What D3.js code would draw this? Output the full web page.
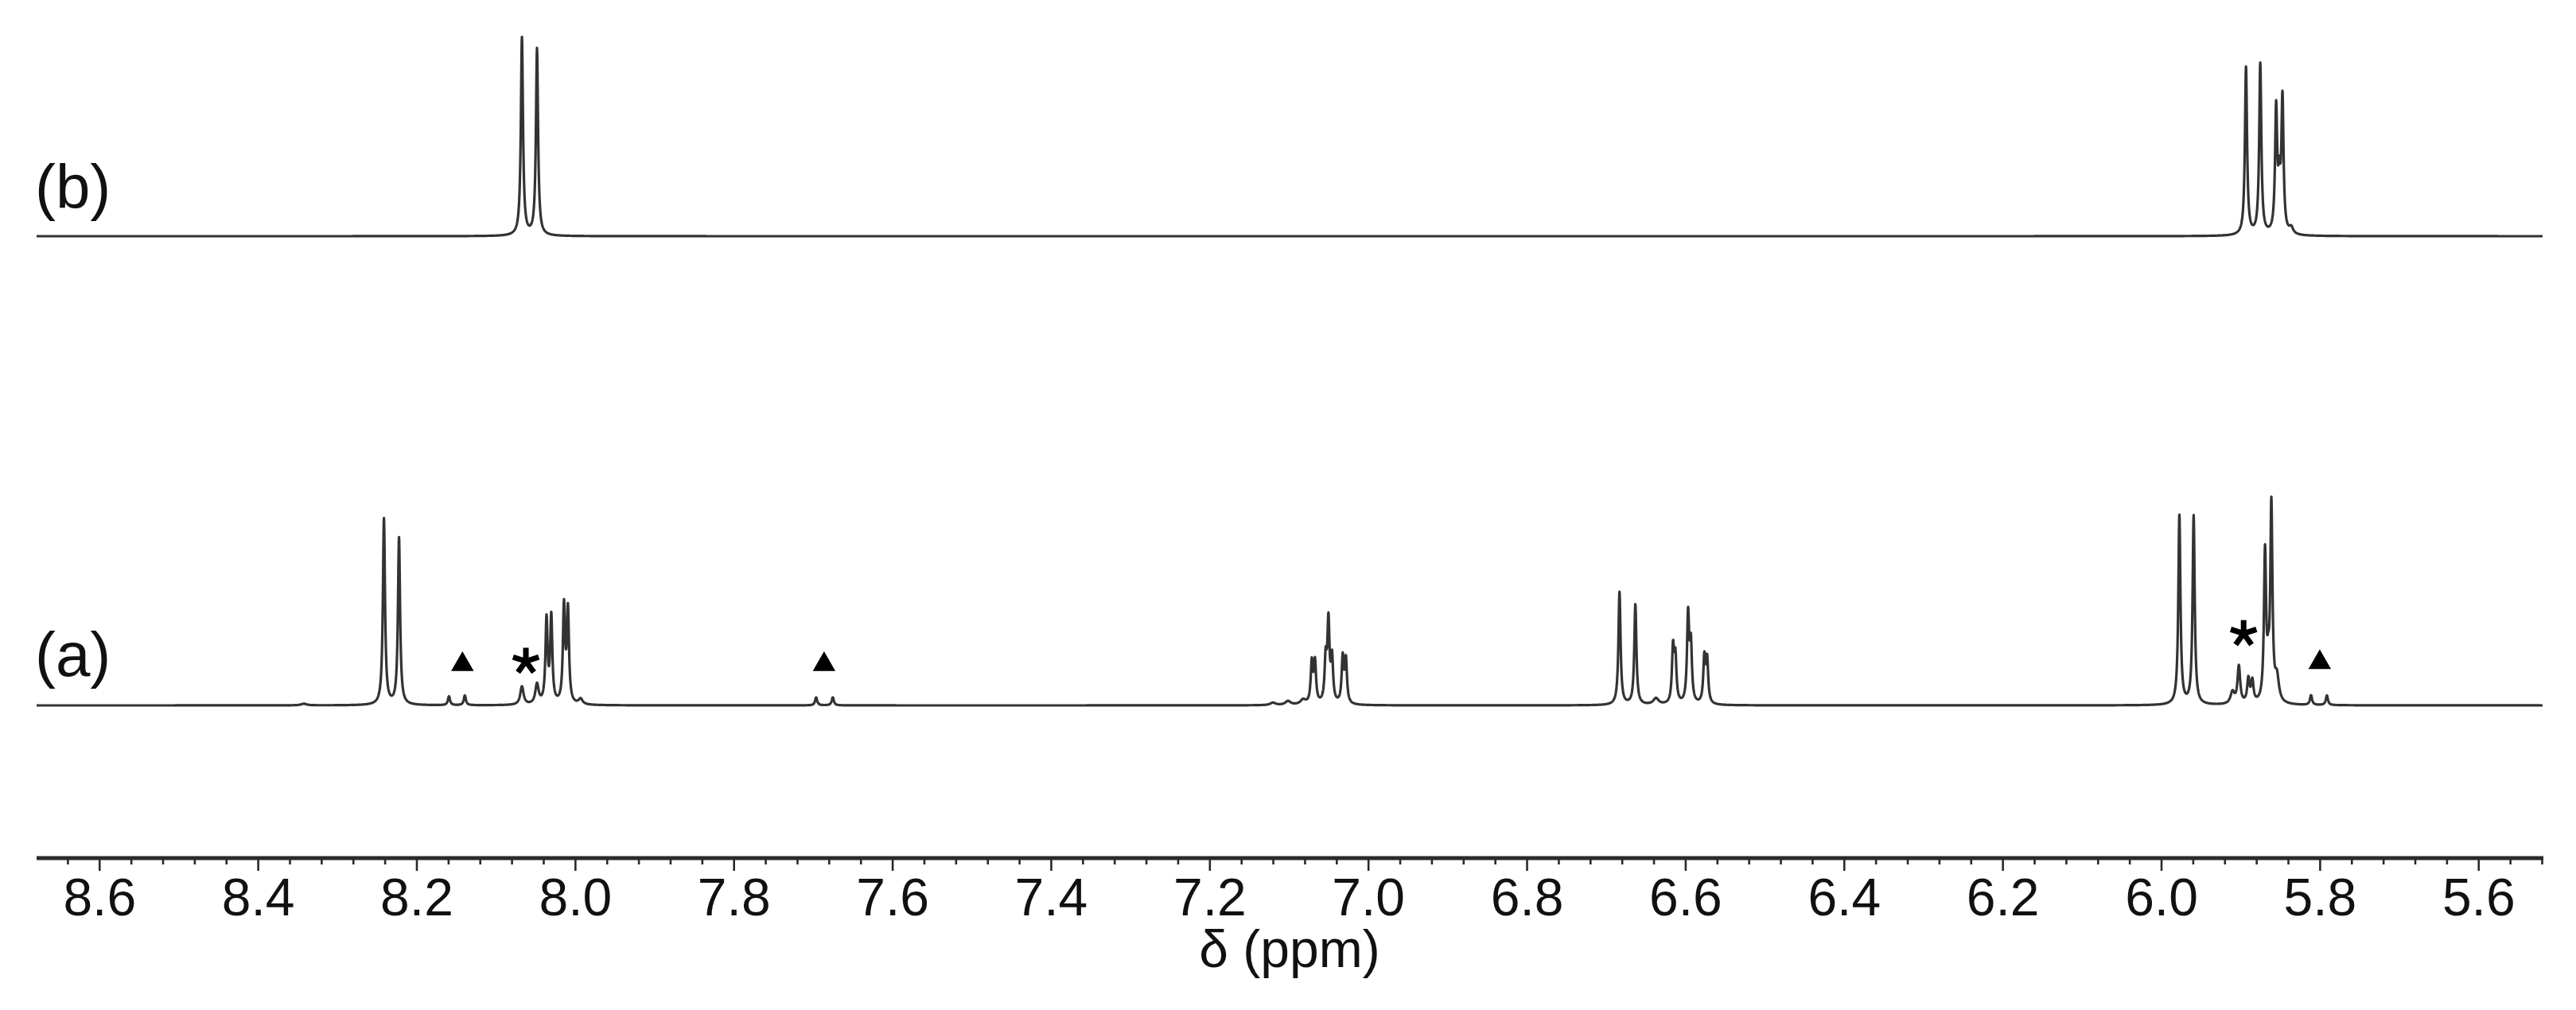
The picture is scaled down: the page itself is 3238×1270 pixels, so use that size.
<!DOCTYPE html>
<html>
<head>
<meta charset="utf-8">
<script src="https://cdn.jsdelivr.net/npm/d3@7"></script>
<style>
  html, body { margin: 0; padding: 0; background: #fff; }
  svg { display: block; }
  text { font-family: "Liberation Sans", Arial, Helvetica, sans-serif; fill: #111; }
</style>
</head>
<body>
<svg id="chart" width="3238" height="1270"></svg>
<script>
// ---------------- DATA ----------------
// chemical-shift window (ppm), left -> right
const ppmWindow = [8.679, 5.519];

// spectrum (a): line positions (ppm), intensities (% of tallest), half-widths (ppm)
const shiftsA = [8.342, 8.241, 8.222, 8.159, 8.139, 8.067, 8.048, 8.036, 8.030, 8.014, 8.009, 7.993,
                 7.696, 7.675, 7.120, 7.101, 7.082, 7.071, 7.067, 7.0535, 7.050, 7.0455, 7.032, 7.028,
                 6.683, 6.663, 6.637, 6.6155, 6.6125, 6.5965, 6.593, 6.576, 6.5725,
                 5.977, 5.959, 5.910, 5.902, 5.890, 5.885, 5.869, 5.865, 5.861, 5.854, 5.811, 5.791];
const intensA = [0.8, 90.7, 81.4, 4.3, 4.7, 8.9, 9.7, 40.7, 41.9, 46.9, 45.0, 2.7,
                 3.9, 3.9, 1.2, 1.9, 2.3, 19.8, 19.8, 20.2, 38.8, 21.3, 22.1, 20.9,
                 55.0, 48.8, 3.1, 26.4, 21.3, 42.6, 27.1, 22.1, 20.9,
                 92.2, 91.9, 5.8, 18.2, 11.6, 10.5, 72.5, 11.6, 95.3, 11.6, 4.7, 4.7];
const widthsA = [0.004, 0.0016, 0.0016, 0.0016, 0.0016, 0.0025, 0.0025, 0.0016, 0.0016, 0.0016, 0.0016, 0.003,
                 0.0016, 0.0016, 0.004, 0.004, 0.004, 0.0016, 0.0016, 0.0016, 0.0016, 0.0016, 0.0016, 0.0016,
                 0.0016, 0.0016, 0.004, 0.0016, 0.0016, 0.0016, 0.0016, 0.0016, 0.0016,
                 0.0016, 0.0016, 0.003, 0.002, 0.0018, 0.0018, 0.0016, 0.0016, 0.0016, 0.003, 0.0016, 0.0016];

// spectrum (b)
const shiftsB = [8.067, 8.048, 5.893, 5.875, 5.855, 5.851, 5.847, 5.836];
const intensB = [96.5, 91.1, 81.8, 83.3, 60.1, 21.3, 65.1, 3.1];
const widthsB = [0.0016, 0.0016, 0.0016, 0.0016, 0.0016, 0.0016, 0.0016, 0.003];

const traceLabels = ["(a)", "(b)"];

// axis ticks
const majorTicks = [8.6, 8.4, 8.2, 8.0, 7.8, 7.6, 7.4, 7.2, 7.0, 6.8, 6.6, 6.4, 6.2, 6.0, 5.8, 5.6];
const tickLabels = ["8.6", "8.4", "8.2", "8.0", "7.8", "7.6", "7.4", "7.2", "7.0", "6.8", "6.6", "6.4", "6.2", "6.0", "5.8", "5.6"];
const axisTitle = "δ (ppm)";

// annotations on trace (a): ppm and level (% units above baseline)
const triangleShifts = [8.142, 7.686, 5.800];
const triangleLevels = [21.5, 21.5, 22.5];
const asteriskShifts = [8.062, 5.896];
const asteriskLevels = [21.5, 35.0];

// ---------------- DRAW ----------------
const svg = d3.select("#chart");
const x = d3.scaleLinear().domain(ppmWindow).range([46, 3196]);
const yA = d3.scaleLinear().domain([0, 100]).range([887, 629]);
const yB = d3.scaleLinear().domain([0, 100]).range([297, 39]);

function spectrum(shifts, intens, widths) {
  const step = 0.00025;
  const pts = [];
  for (let v = ppmWindow[0]; v >= ppmWindow[1] - 1e-9; v -= step) {
    let s = 0;
    for (let i = 0; i < shifts.length; i++) {
      const d = v - shifts[i], w = widths[i];
      s += intens[i] * w * w / (d * d + w * w);
    }
    pts.push([v, s]);
  }
  return pts;
}

const dataA = spectrum(shiftsA, intensA, widthsA);
const dataB = spectrum(shiftsB, intensB, widthsB);

const lineA = d3.line().x(d => x(d[0])).y(d => yA(d[1]));
const lineB = d3.line().x(d => x(d[0])).y(d => yB(d[1]));

svg.append("path").datum(dataB).attr("d", lineB)
  .attr("fill", "none").attr("stroke", "#333").attr("stroke-width", 3.2).attr("stroke-linejoin", "round");
svg.append("path").datum(dataA).attr("d", lineA)
  .attr("fill", "none").attr("stroke", "#333").attr("stroke-width", 3.2).attr("stroke-linejoin", "round");

// trace labels
svg.append("text").attr("x", 44).attr("y", 850).attr("font-size", 78).text(traceLabels[0]);
svg.append("text").attr("x", 44).attr("y", 262).attr("font-size", 78).text(traceLabels[1]);

// triangles
svg.selectAll("path.tri").data(triangleShifts).enter().append("path")
  .attr("class", "tri")
  .attr("d", d3.symbol().type(d3.symbolTriangle).size(350))
  .attr("transform", (d, i) => `translate(${x(d)},${yA(triangleLevels[i]) + 4})`)
  .attr("fill", "#000");

// asterisks (5 arms)
function asteriskPath(r) {
  const p = d3.path();
  for (let k = 0; k < 5; k++) {
    const a = -Math.PI / 2 + k * 2 * Math.PI / 5;
    p.moveTo(0, 0);
    p.lineTo(r * Math.cos(a), r * Math.sin(a));
  }
  return p.toString();
}
svg.selectAll("path.ast").data(asteriskShifts).enter().append("path")
  .attr("class", "ast")
  .attr("d", asteriskPath(17))
  .attr("transform", (d, i) => `translate(${x(d)},${yA(asteriskLevels[i])})`)
  .attr("fill", "none").attr("stroke", "#000").attr("stroke-width", 7).attr("stroke-linecap", "butt");

// axis
const axisY = 1079;
const minorTicks = d3.range(0, 80).map(i => +(8.64 - i * 0.04).toFixed(2)).filter(v => v >= 5.519 &&
  !majorTicks.some(m => Math.abs(m - v) < 1e-6));

const gAxis = svg.append("g").attr("transform", `translate(0,${axisY})`);
gAxis.call(d3.axisBottom(x).tickValues(majorTicks).tickSize(16).tickPadding(8)
  .tickFormat((d, i) => tickLabels[i]));
gAxis.call(g => g.select(".domain").remove());
gAxis.selectAll(".tick line").attr("stroke", "#2a2a2a").attr("stroke-width", 2.6);
gAxis.selectAll(".tick text").attr("font-size", 66).attr("fill", "#111")
  .attr("font-family", "'Liberation Sans', Arial, sans-serif").attr("dy", "0.72em");

const gMinor = svg.append("g").attr("transform", `translate(0,${axisY})`);
gMinor.call(d3.axisBottom(x).tickValues(minorTicks).tickSize(8).tickFormat(""));
gMinor.call(g => g.select(".domain").remove());
gMinor.selectAll(".tick line").attr("stroke", "#2a2a2a").attr("stroke-width", 2.6);

svg.append("line").attr("x1", x(ppmWindow[0])).attr("x2", x(ppmWindow[1]) + 1)
  .attr("y1", axisY).attr("y2", axisY)
  .attr("stroke", "#2a2a2a").attr("stroke-width", 5);

svg.append("text").attr("x", (x(ppmWindow[0]) + x(ppmWindow[1])) / 2).attr("y", 1216)
  .attr("text-anchor", "middle").attr("font-size", 66).text(axisTitle);
</script>
</body>
</html>
